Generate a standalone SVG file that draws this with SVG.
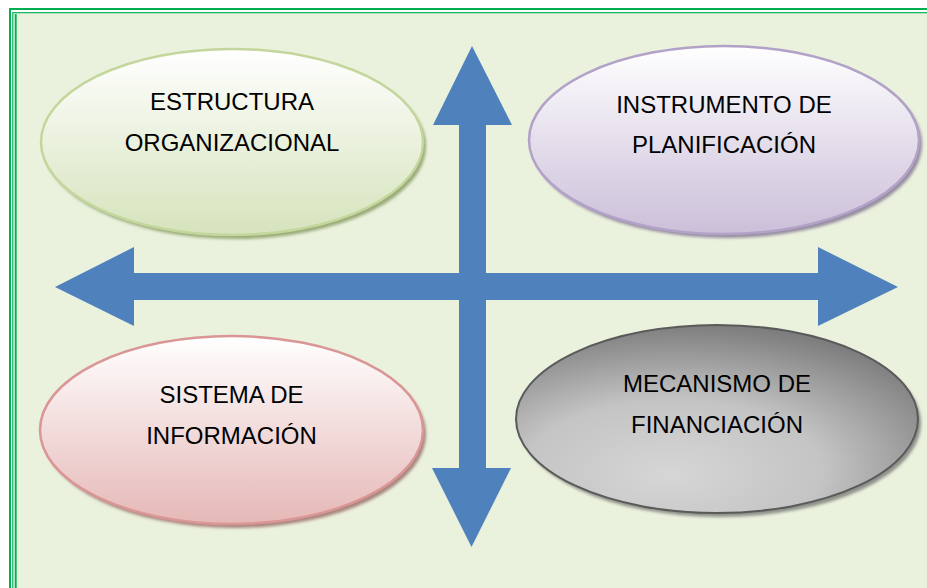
<svg xmlns="http://www.w3.org/2000/svg" width="927" height="588" viewBox="0 0 927 588">
<style>
.lbl{font-family:"Liberation Sans",Arial,sans-serif;font-size:24px;fill:#000;text-anchor:middle}
.frame{stroke:#00B050;fill:none}
</style>
<defs>
<linearGradient id="gGreen" x1="0" y1="0" x2="0" y2="1"><stop offset="0" stop-color="#FFFFFF"/><stop offset="1" stop-color="#D6E3BC"/></linearGradient>
<linearGradient id="gPurple" x1="0" y1="0" x2="0" y2="1"><stop offset="0" stop-color="#FFFFFF"/><stop offset="1" stop-color="#CBBFD9"/></linearGradient>
<linearGradient id="gPink" x1="0" y1="0" x2="0" y2="1"><stop offset="0" stop-color="#FFFFFF"/><stop offset="1" stop-color="#E5B8B7"/></linearGradient>
<radialGradient id="gGray" cx="0.4" cy="0.75" r="0.75" fx="0.38" fy="0.8"><stop offset="0" stop-color="#D6D6D6"/><stop offset="0.5" stop-color="#C4C4C4"/><stop offset="1" stop-color="#7E7E7E"/></radialGradient>
<filter id="blur" x="-10%" y="-10%" width="120%" height="120%"><feGaussianBlur stdDeviation="1.5"/></filter>
</defs>
<rect x="0" y="0" width="927" height="588" fill="#FFFFFF"/>
<rect x="16.5" y="13.3" width="920" height="590" fill="#EAF1DD"/>
<rect x="10" y="9" width="930" height="590" class="frame" stroke-width="2"/>
<rect x="12.8" y="12.7" width="930" height="590" class="frame" stroke-width="1.2"/>
<line x1="15.7" y1="14" x2="15.7" y2="588" class="frame" stroke-width="2"/>
<g id="connectors">
<polygon fill="#4F81BD" points="472,46 512,125 486,125 486,273 818,273 818,247 898,287 818,326 818,300 486,300 486,468 511,468 471.5,547 432,468 459,468 459,300 134,300 134,326 55,287 134,247 134,273 459,273 459,125 433,125"/>
</g>
<g id="estructura">
<ellipse cx="235" cy="146" rx="191" ry="93" fill="#9AAB78" filter="url(#blur)"/>
<ellipse cx="232" cy="142" rx="191" ry="93" fill="url(#gGreen)" stroke="#C3D69B" stroke-width="2.5"/>
<text class="lbl" x="232" y="110">ESTRUCTURA</text>
<text class="lbl" x="232" y="151">ORGANIZACIONAL</text>
</g>
<g id="instrumento">
<ellipse cx="727" cy="144" rx="195" ry="94" fill="#958CA0" filter="url(#blur)"/>
<ellipse cx="724" cy="140" rx="195" ry="94" fill="url(#gPurple)" stroke="#B3A2C7" stroke-width="2.5"/>
<text class="lbl" x="724" y="113">INSTRUMENTO DE</text>
<text class="lbl" x="724" y="153">PLANIFICACIÓN</text>
</g>
<g id="sistema">
<ellipse cx="234.5" cy="434" rx="191.5" ry="94" fill="#A8867F" filter="url(#blur)"/>
<ellipse cx="231.5" cy="430" rx="191.5" ry="94" fill="url(#gPink)" stroke="#D99694" stroke-width="2.5"/>
<text class="lbl" x="231.5" y="403">SISTEMA DE</text>
<text class="lbl" x="231.5" y="444">INFORMACIÓN</text>
</g>
<g id="mecanismo">
<ellipse cx="720" cy="423" rx="201" ry="94" fill="#8E928A" filter="url(#blur)"/>
<ellipse cx="717" cy="419" rx="201" ry="94" fill="url(#gGray)" stroke="#5A5A5A" stroke-width="2"/>
<text class="lbl" x="717" y="392">MECANISMO DE</text>
<text class="lbl" x="717" y="433">FINANCIACIÓN</text>
</g>
</svg>
